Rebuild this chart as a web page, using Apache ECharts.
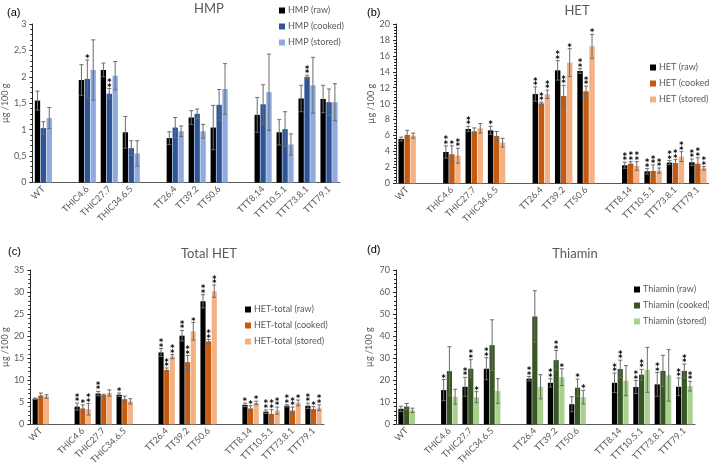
<!DOCTYPE html>
<html><head><meta charset="utf-8">
<script src="https://cdn.jsdelivr.net/npm/echarts@6/dist/echarts.min.js"></script>
<style>html,body{margin:0;padding:0;background:#fff}#c{width:709px;height:467px}</style>
</head><body><div id="c"></div>
<script>
// genotypes and their slots on the category axis (gaps between groups)
const genotypes = ['WT','THIC4.6','THIC27.7','THIC34.6.5','TT26.4','TT39.2','TT50.6','TTT8.14','TTT10.5.1','TTT73.8.1','TTT79.1'];
const slots = [0,2,3,4,6,7,8,10,11,12,13];

// (a) HMP
const hmpRaw = [1.55,1.94,2.13,0.95,0.84,1.23,1.04,1.28,0.95,1.59,1.58];
const hmpRawErr = [0.18,0.29,0.13,0.30,0.12,0.13,0.42,0.33,0.24,0.25,0.26];
const hmpCooked = [1.03,1.96,1.68,0.65,1.04,1.30,1.47,1.48,1.01,2.00,1.52];
const hmpCookedErr = [0.12,0.36,0.10,0.14,0.19,0.09,0.29,0.37,0.33,0.03,0.25];
const hmpStored = [1.22,2.13,2.02,0.55,0.97,0.97,1.77,1.71,0.72,1.84,1.52];
const hmpStoredErr = [0.20,0.57,0.27,0.24,0.10,0.13,0.48,0.72,0.20,0.53,0.35];
const hmpRawSig = ['','','','','','','','','','',''];
const hmpCookedSig = ['','*','**','','','','','','','**',''];
const hmpStoredSig = ['','','','','','','','','','',''];

// (b) HET
const hetRaw = [5.56,3.93,6.82,6.65,11.2,14.18,14.1,2.26,1.5,2.6,2.64];
const hetRawErr = [0.24,0.77,0.33,0.5,0.9,1.22,0.3,0.38,0.34,0.25,0.41];
const hetCooked = [6.07,3.64,6.53,5.94,10.04,10.96,11.55,2.47,1.55,2.55,2.47];
const hetCookedErr = [0.58,1.06,0.42,0.56,0.16,1.34,0.65,0.25,0.75,0.42,0.73];
const hetStored = [5.98,3.47,6.9,5.1,11.17,15.15,17.2,2.18,1.6,3.35,1.88];
const hetStoredErr = [0.32,0.93,0.6,0.55,0.53,1.75,1.5,0.54,0.32,0.62,0.22];
const hetRawSig = ['','**','**','*','**','**','**','**','**','**','**'];
const hetCookedSig = ['','*','','','**','**','**','**','**','**','**'];
const hetStoredSig = ['','**','','','**','*','*','**','**','**','**'];

// (c) Total HET
const totRaw = [5.8,4.0,6.97,6.7,16.3,20.1,27.9,4.4,2.86,4.2,4.2];
const totRawErr = [0.15,0.8,0.5,0.4,0.9,1.2,1.5,0.4,0.4,0.25,0.6];
const totCooked = [6.53,3.6,6.6,5.7,12.33,14.1,18.8,3.6,2.35,3.1,3.45];
const totCookedErr = [0.55,0.8,0.2,0.7,0.45,1.5,0.45,0.6,0.95,0.8,0.55];
const totStored = [6.3,3.4,7.1,5.2,15.35,21.1,30.2,4.85,3.1,4.85,3.75];
const totStoredErr = [0.4,1.3,0.7,0.6,0.45,2.0,1.4,0.4,0.8,0.65,0.65];
const totRawSig = ['','**','**','*','**','**','**','*','**','**','**'];
const totCookedSig = ['','*','','','**','**','**','*','**','**','*'];
const totStoredSig = ['','**','','','**','*','**','*','**','*','**'];

// (d) Thiamin
const thiRaw = [7.0,15.5,17.0,25.2,20.7,18.8,9.1,18.8,16.9,18.1,17.0];
const thiRawErr = [1.2,4.8,4.3,5.0,1.0,1.9,3.4,4.4,2.9,5.4,4.0];
const thiCooked = [8.06,24.1,25.2,35.9,48.9,29.1,16.6,25.1,22.5,24.2,24.2];
const thiCookedErr = [1.4,11.1,4.1,11.5,11.7,4.4,3.9,4.0,2.4,7.1,3.1];
const thiStored = [6.3,12.5,12.3,15.1,17.0,21.4,12.3,19.8,24.7,22.2,17.3];
const thiStoredErr = [1.0,3.4,2.5,5.6,5.5,3.8,3.1,6.8,10.2,11.7,2.2];
const thiRawSig = ['','*','**','**','**','**','','**','**','**','**'];
const thiCookedSig = ['','','**','','','**','*','**','**','','**'];
const thiStoredSig = ['','','*','','','*','*','','','','**'];

const yTicks = [{max:3,interval:0.5},{max:20,interval:2},{max:35,interval:5},{max:70,interval:10}];

// build axis categories with gaps
const cats = [];
for (let i=0;i<14;i++) cats.push('');
slots.forEach((s,j)=>{cats[s]=genotypes[j];});

const panels = [
  {label:'(a)', title:'HMP', names:['HMP (raw)','HMP (cooked)','HMP (stored)'],
   colors:['#000000','#2F5597','#8FAADC'],
   vals:[hmpRaw,hmpCooked,hmpStored], errs:[hmpRawErr,hmpCookedErr,hmpStoredErr], sigs:[hmpRawSig,hmpCookedSig,hmpStoredSig],
   grid:{left:32,top:24,width:308,height:158.5}, comma:true, nameGap:20,
   titlePos:{left:204,top:-3}, labelPos:{left:2,top:2}, legendPos:{left:274,top:0}},
  {label:'(b)', title:'HET', names:['HET (raw)','HET (cooked)','HET (stored)'],
   colors:['#000000','#C55A11','#F4B183'],
   vals:[hetRaw,hetCooked,hetStored], errs:[hetRawErr,hetCookedErr,hetStoredErr], sigs:[hetRawSig,hetCookedSig,hetStoredSig],
   grid:{left:396,top:24,width:313,height:159.3}, comma:false, nameGap:19,
   titlePos:{left:572,top:-1}, labelPos:{left:362,top:2}, legendPos:{left:645,top:57}},
  {label:'(c)', title:'Total HET', names:['HET-total (raw)','HET-total (cooked)','HET-total (stored)'],
   colors:['#000000','#C55A11','#F4B183'],
   vals:[totRaw,totCooked,totStored], errs:[totRawErr,totCookedErr,totStoredErr], sigs:[totRawSig,totCookedSig,totStoredSig],
   grid:{left:29.5,top:270,width:294.5,height:159}, comma:false, nameGap:19,
   titlePos:{left:204,top:242}, labelPos:{left:3,top:241}, legendPos:{left:240,top:299}},
  {label:'(d)', title:'Thiamin', names:['Thiamin (raw)','Thiamin (cooked)','Thiamin (stored)'],
   colors:['#000000','#385723','#A9D18E'],
   vals:[thiRaw,thiCooked,thiStored], errs:[thiRawErr,thiCookedErr,thiStoredErr], sigs:[thiRawSig,thiCookedSig,thiStoredSig],
   grid:{left:396,top:270,width:299,height:159.3}, comma:false, nameGap:22,
   titlePos:{left:570,top:242}, labelPos:{left:362,top:239}, legendPos:{left:629,top:279}}
];

const CAT_GAP = 0.22, BAR_GAP = 0.1;
const FONT = 'Lato, "Noto Sans", sans-serif';
const GRAY = '#595959';

function makeRender(k, sig) {
  return function (params, api) {
    const slot = api.value(0), v = api.value(1), e = api.value(2), j = api.value(3);
    const band = api.size([1, 0])[0];
    const inner = band * (1 - CAT_GAP);
    const bw = inner / (3 + 2 * BAR_GAP);
    const cx = api.coord([slot, 0])[0] - inner / 2 + bw * (0.5 + k * (1 + BAR_GAP));
    const top = api.coord([slot, v + e])[1];
    const bot = api.coord([slot, Math.max(v - e, 0)])[1];
    const cap = 2;
    const ls = {stroke: '#6b6b6b', lineWidth: 1};
    const children = [
      {type: 'line', shape: {x1: cx, y1: top, x2: cx, y2: bot}, style: ls},
      {type: 'line', shape: {x1: cx - cap, y1: top, x2: cx + cap, y2: top}, style: ls},
      {type: 'line', shape: {x1: cx - cap, y1: bot, x2: cx + cap, y2: bot}, style: ls}
    ];
    const s = sig[j] || '';
    for (let n = 0; n < s.length; n++) {
      children.push({type: 'text', style: {text: '*', x: cx, y: top - 1 - n * 4.5,
        fill: '#000', fontSize: 8, fontWeight: 'bold', fontFamily: 'DejaVu Sans',
        align: 'center', verticalAlign: 'middle'}});
    }
    return {type: 'group', children: children};
  };
}

const option = {animation: false, backgroundColor: '#fff',
  title: [], legend: [], grid: [], xAxis: [], yAxis: [], series: []};

panels.forEach((p, i) => {
  option.title.push({text: p.title, left: p.titlePos.left, top: p.titlePos.top, textAlign: 'center',
    textStyle: {fontSize: 13, fontWeight: 'normal', color: GRAY, fontFamily: FONT}});
  option.title.push({text: p.label, left: p.labelPos.left, top: p.labelPos.top,
    textStyle: {fontSize: 11, fontWeight: 'normal', color: '#000', fontFamily: 'Liberation Sans'}});
  option.legend.push({data: p.names, orient: 'vertical', left: p.legendPos.left, top: p.legendPos.top,
    icon: 'rect', itemWidth: 6, itemHeight: 6, itemGap: 5,
    textStyle: {fontSize: 9, color: GRAY, fontFamily: FONT, lineHeight: 11, padding: [0, 0, 0, -2]}});
  option.grid.push(Object.assign({containLabel: false}, p.grid));
  option.xAxis.push({type: 'category', gridIndex: i, data: cats,
    axisLine: {lineStyle: {color: '#595959', width: 1}}, axisTick: {show: false},
    axisLabel: {rotate: 45, interval: 0, fontSize: 9, color: GRAY, fontFamily: FONT, margin: 5}});
  const yt = yTicks[i];
  option.yAxis.push({type: 'value', gridIndex: i, min: 0, max: yt.max, interval: yt.interval,
    name: 'µg /100 g', nameLocation: 'middle', nameGap: p.nameGap,
    nameTextStyle: {fontSize: 9, color: GRAY, fontFamily: FONT},
    splitLine: {show: false},
    axisLine: {show: true, lineStyle: {color: '#262626', width: 1}},
    axisTick: {show: true, length: 3, lineStyle: {color: '#262626'}},
    minorTick: {show: true, splitNumber: 5, length: 2, lineStyle: {color: '#262626'}},
    axisLabel: {fontSize: 9, color: GRAY, fontFamily: FONT, margin: 6,
      formatter: v => p.comma ? String(v).replace('.', ',') : String(v)}});
  for (let k = 0; k < 3; k++) {
    const full = cats.map(() => null);
    slots.forEach((s, j) => { full[s] = p.vals[k][j]; });
    option.series.push({type: 'bar', name: p.names[k], xAxisIndex: i, yAxisIndex: i, data: full,
      itemStyle: {color: p.colors[k]}, barCategoryGap: (CAT_GAP * 100) + '%', barGap: (BAR_GAP * 100) + '%'});
  }
  for (let k = 0; k < 3; k++) {
    option.series.push({type: 'custom', xAxisIndex: i, yAxisIndex: i, silent: true, z: 10, clip: false,
      renderItem: makeRender(k, p.sigs[k]), encode: {x: 0, y: 1},
      data: slots.map((s, j) => [s, p.vals[k][j], p.errs[k][j], j])});
  }
});

echarts.init(document.getElementById('c'), null, {renderer: 'canvas'}).setOption(option);
</script></body></html>
